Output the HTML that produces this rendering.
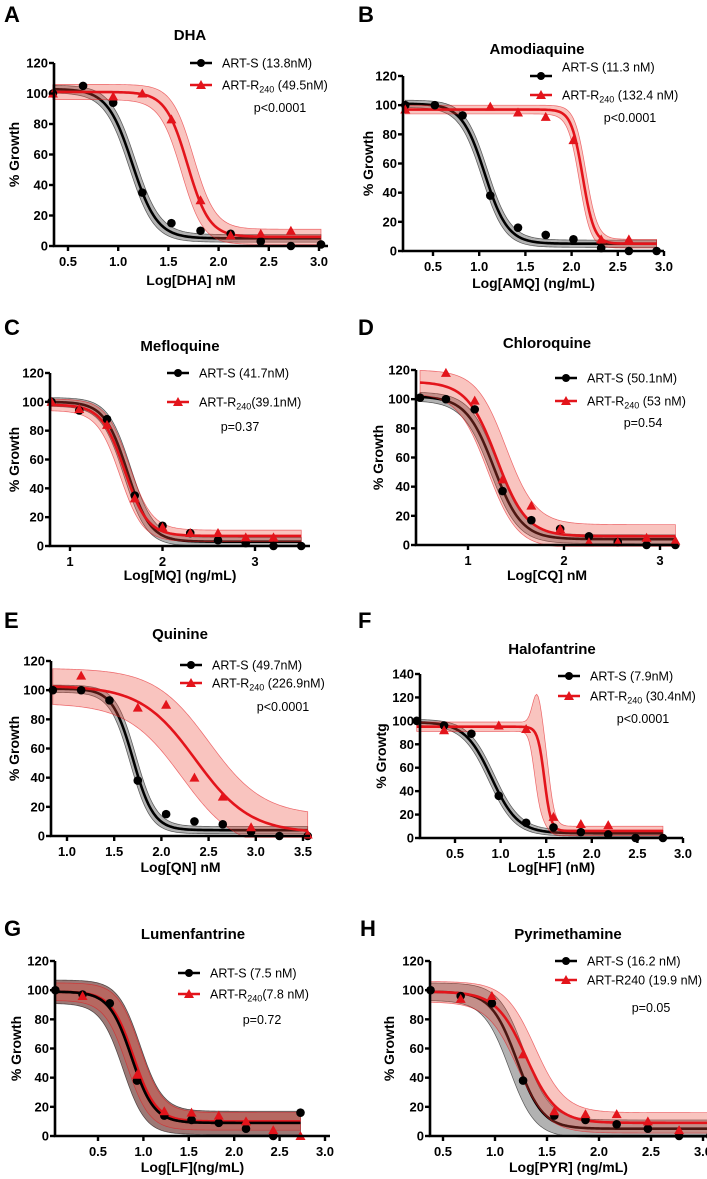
<!DOCTYPE html>
<html><head><meta charset="utf-8">
<style>
html,body{margin:0;padding:0;background:#fff;}
svg{display:block;font-family:"Liberation Sans",Arial,sans-serif;}
</style></head>
<body>
<svg id="fig" width="707" height="1179" viewBox="0 0 707 1179" xmlns="http://www.w3.org/2000/svg"></svg>
<script>
// ---- data (log concentration, % growth) ----
const xA=[0.35,0.65,0.95,1.24,1.53,1.82,2.12,2.42,2.72,3.02];
const sA=[100,105,94,35,15,10,8,3,0,1];
const rA=[100,null,98,100,83,30,7,8,10,null];
const fitSA=[103,5,1.14,3.5], fitRA=[101,6,1.69,4];

const xB=[0.2,0.52,0.82,1.12,1.42,1.72,2.02,2.32,2.62,2.92];
const sB=[100,100,93,38,16,11,8,2,0,0];
const rB=[97,null,null,99,95,92,76,8,8,null];
const fitSB=[101,5,1.06,3.5], fitRB=[97,5,2.12,7];

const xC=[0.8,1.1,1.4,1.7,2.0,2.3,2.6,2.9,3.2,3.5];
const sC=[100,94,88,35,14,9,4,2,0,0];
const rC=[100,95,84,33,13,9,9,6,6,null];
const fitSC=[100,3,1.62,3.5], fitRC=[98,7,1.59,3.5];

const xD=[0.5,0.77,1.07,1.36,1.66,1.96,2.26,2.56,2.86,3.16];
const sD=[101,100,93,37,17,11,6,2,0,0];
const rD=[null,118,99,45,27,11,2,2,5,3];
const fitSD=[102,4,1.27,3], fitRD=[112,6,1.3,2.8];

const xE=[0.85,1.15,1.45,1.75,2.05,2.35,2.65,2.95,3.25,3.55];
const sE=[100,100,93,38,15,10,8,3,0,0];
const rE=[null,110,null,88,90,40,27,6,null,1];
const fitSE=[101,4,1.7,4], fitRE=[103,2,2.36,1.5];

const xF=[0.08,0.38,0.68,0.98,1.28,1.58,1.88,2.18,2.48,2.78];
const sF=[100,96,89,36,13,9,5,3,0,0];
const rF=[null,92,null,96,93,18,12,11,null,null];
const fitSF=[99,4,0.9,3], fitRF=[95,6,1.48,12];

const xG=[0.03,0.33,0.63,0.93,1.23,1.53,1.83,2.13,2.43,2.73];
const sG=[100,97,91,38,14,11,9,5,0,16];
const rG=[null,96,null,42,17,16,14,10,4,0];
const fitSG=[99,9,0.87,3.5], fitRG=[99,10,0.89,3.5];

const xH=[0.38,0.67,0.97,1.27,1.57,1.87,2.17,2.47,2.77,3.07];
const sH=[100,96,91,38,14,11,8,5,0,0];
const rH=[null,94,96,56,17,15,15,10,4,null];
const fitSH=[99,5,1.21,3.5], fitRH=[99,9,1.3,3];

const xTicksA=[0.5,1.0,1.5,2.0,2.5,3.0];
const xTicksC=[1,2,3];
const xTicksE=[1.0,1.5,2.0,2.5,3.0,3.5];

const NS="http://www.w3.org/2000/svg";
const svg=document.getElementById('fig');
function mk(tag,attrs,parent){const e=document.createElementNS(NS,tag);for(const k in attrs)e.setAttribute(k,attrs[k]);(parent||svg).appendChild(e);return e;}
function logi(f,x){return f[1]+(f[0]-f[1])/(1+Math.pow(10,(x-f[2])*f[3]));}

const panels=[
 {id:'a',letter:'A',lx:4,ly:22,title:'DHA',tx:190,ty:40,x0:54,y0:246,yTop:63,ymax:120,xa:0.5,pa:68,xb:3.0,pb:319,xend:328,xmin:0.36,xs:xA,s:sA,r:rA,fs:fitSA,fr:fitRA,ticks:xTicksA,dec:1,xl:'Log[DHA] nM',xly:285,yl:'% Growth',ylx:14,
  legX:190,legY1:63,legY2:85,legS:'ART-S (13.8nM)',legR:['ART-R','240',' (49.5nM)'],p:'p<0.0001',px:280,py:112,wS:2.5,wR:5},
 {id:'b',letter:'B',lx:358,ly:22,title:'Amodiaquine',tx:537,ty:54,x0:403,y0:251,yTop:76,ymax:120,xa:0.5,pa:433,xb:3.0,pb:664,xend:664,xmin:0.18,xs:xB,s:sB,r:rB,fs:fitSB,fr:fitRB,ticks:xTicksA,dec:1,xl:'Log[AMQ] (ng/mL)',xly:288,yl:'% Growth',ylx:368,
  legX:530,legY1:76,legY2:95,legS:'ART-S (11.3 nM)',legR:['ART-R','240',' (132.4 nM)'],p:'p<0.0001',px:630,py:122,legSdy:-9,wS:2.5,wR:3},
 {id:'c',letter:'C',lx:4,ly:335,title:'Mefloquine',tx:180,ty:351,x0:50,y0:546,yTop:373,ymax:120,xa:1,pa:70,xb:3,pb:255,xend:310,xmin:0.78,xs:xC,s:sC,r:rC,fs:fitSC,fr:fitRC,ticks:xTicksC,dec:0,xl:'Log[MQ] (ng/mL)',xly:580,yl:'% Growth',ylx:14,
  legX:167,legY1:373,legY2:402,legS:'ART-S (41.7nM)',legR:['ART-R','240','(39.1nM)'],p:'p=0.37',px:240,py:431,wS:3,wR:4},
 {id:'d',letter:'D',lx:358,ly:335,title:'Chloroquine',tx:547,ty:348,x0:416,y0:545,yTop:370,ymax:120,xa:1,pa:468,xb:3,pb:660,xend:678,xmin:0.46,xs:xD,s:sD,r:rD,fs:fitSD,fr:fitRD,ticks:xTicksC,dec:0,xl:'Log[CQ] nM',xly:580,yl:'% Growth',ylx:378,
  legX:555,legY1:378,legY2:401,legS:'ART-S (50.1nM)',legR:['ART-R','240',' (53 nM)'],p:'p=0.54',px:643,py:427,wS:3,wR:8},
 {id:'e',letter:'E',lx:4,ly:628,title:'Quinine',tx:180,ty:639,x0:51,y0:836,yTop:661,ymax:120,xa:1.0,pa:67,xb:3.5,pb:303,xend:310,xmin:0.83,xs:xE,s:sE,r:rE,fs:fitSE,fr:fitRE,ticks:xTicksE,dec:1,xl:'Log[QN] nM',xly:872,yl:'% Growth',ylx:14,
  legX:180,legY1:665,legY2:683,legS:'ART-S (49.7nM)',legR:['ART-R','240',' (226.9nM)'],p:'p<0.0001',px:283,py:711,wS:2.5,wR:12},
 {id:'f',letter:'F',lx:358,ly:628,title:'Halofantrine',tx:552,ty:654,x0:420,y0:838,yTop:674,ymax:140,xa:0.5,pa:455,xb:3.0,pb:683,xend:683,xmin:0.12,xs:xF,s:sF,r:rF,fs:fitSF,fr:fitRF,ticks:xTicksA,dec:1,xl:'Log[HF] (nM)',xly:872,yl:'% Growtg',ylx:381,
  legX:558,legY1:676,legY2:696,legS:'ART-S (7.9nM)',legR:['ART-R','240',' (30.4nM)'],p:'p<0.0001',px:643,py:723,wS:2.5,wR:4,bump:[1.4,26,0.05]},
 {id:'g',letter:'G',lx:4,ly:936,title:'Lumenfantrine',tx:193,ty:939,x0:55,y0:1136,yTop:961,ymax:120,xa:0.5,pa:98,xb:3.0,pb:325,xend:330,xmin:0.026,xs:xG,s:sG,r:rG,fs:fitSG,fr:fitRG,ticks:xTicksA,dec:1,xl:'Log[LF](ng/mL)',xly:1172,yl:'% Growth',ylx:16,
  legX:178,legY1:973,legY2:994,legS:'ART-S (7.5 nM)',legR:['ART-R','240','(7.8 nM)'],p:'p=0.72',px:262,py:1024,wS:8,wR:6,darkS:true},
 {id:'h',letter:'H',lx:360,ly:936,title:'Pyrimethamine',tx:568,ty:939,x0:430,y0:1136,yTop:961,ymax:120,xa:0.5,pa:443,xb:3.0,pb:703,xend:707,xmin:0.375,xs:xH,s:sH,r:rH,fs:fitSH,fr:fitRH,ticks:xTicksA,dec:1,xl:'Log[PYR] (ng/mL)',xly:1172,yl:'% Growth',ylx:389,
  legX:555,legY1:961,legY2:980,legS:'ART-S (16.2 nM)',legR:['ART-R240 (19.9 nM)','',''],p:'p=0.05',px:651,py:1012,wS:6,wR:7}
];

panels.forEach(P=>{
  const g=mk('g',{});
  
  
  const X=v=>P.pa+(v-P.xa)*(P.pb-P.pa)/(P.xb-P.xa);
  const Y=v=>P.y0-(v/P.ymax)*(P.y0-P.yTop);
  const fitEnd=P.xs[P.xs.length-1];
  const fitStart=P.xs[0];
  let t=mk('text',{x:P.lx,y:P.ly,'font-size':22,'font-weight':'bold'},g);t.textContent=P.letter;
  
  t=mk('text',{x:P.tx,y:P.ty,'font-size':15,'font-weight':'bold','text-anchor':'middle'},g);t.textContent=P.title;
  
  function series(f,w,fill,stroke,name,bump){
    const N=160,up=[],dn=[],mid=[];
    const dx=Math.min(0.012*w,0.15);
    for(let i=0;i<=N;i++){const x=fitStart+(fitEnd-fitStart)*i/N;
      const y=logi(f,x);
      let ww=w;if(bump){ww+=bump[1]*Math.exp(-Math.pow((x-bump[0])/bump[2],2)/2);}
      const fu=[f[0]+ww,f[1]+ww,f[2]+dx,f[3]], fd=[f[0]-ww,f[1]-ww,f[2]-dx,f[3]];
      const yu=Math.max(logi(fu,x),y+ (bump?ww-w:0)), yd=logi(fd,x);
      up.push([X(x),Y(Math.min(yu,P.ymax))]);dn.push([X(x),Y(Math.max(yd,-1))]);mid.push([X(x),Y(y)]);}
    if(w>0.05){
      let b=mk('polygon',{points:up.concat(dn.reverse()).map(p=>p.join(',')).join(' '),fill:fill,stroke:stroke,'stroke-width':0.7,'stroke-opacity':0.6},g);
      
    }
    let l=mk('polyline',{points:mid.map(p=>p.join(',')).join(' '),fill:'none',stroke:stroke,'stroke-width':2.6},g);
    
  }
  series(P.fs,P.wS,P.darkS?'rgba(90,30,25,0.6)':'rgba(0,0,0,0.3)','#000','art-s',null);
  series(P.fr,P.wR,'rgba(235,70,55,0.32)','#e3141b','art-r',P.bump);
  if(P.darkS){series(P.fs,0,'none','#000','art-s-line',null);}
  P.xs.forEach((x,i)=>{
    if(P.s[i]!=null){const c=mk('circle',{cx:X(x),cy:Y(P.s[i]),r:4.3,fill:'#000'},g);
      }
    if(P.r[i]!=null){const cx=X(x),cy=Y(P.r[i]);
      const tr=mk('polygon',{points:`${cx},${cy-5} ${cx-5},${cy+4} ${cx+5},${cy+4}`,fill:'#e3141b'},g);
      }
  });
  let ax=mk('path',{d:`M${P.x0},${P.yTop}V${P.y0}H${P.xend}`,fill:'none',stroke:'#000','stroke-width':2.6},g);
  
  for(let v=0;v<=P.ymax;v+=20){
    const y=Y(v);mk('line',{x1:P.x0-5,x2:P.x0,y1:y,y2:y,stroke:'#000','stroke-width':2.4},g);
    const tt=mk('text',{x:P.x0-6,y:y+4.5,'font-size':13,'font-weight':'bold','text-anchor':'end'},g);tt.textContent=v;
    
  }
  P.ticks.forEach(v=>{
    const x=X(v);mk('line',{x1:x,x2:x,y1:P.y0,y2:P.y0+5,stroke:'#000','stroke-width':2.4},g);
    const tt=mk('text',{x:x,y:P.y0+20,'font-size':13,'font-weight':'bold','text-anchor':'middle'},g);tt.textContent=v.toFixed(P.dec);
    
  });
  t=mk('text',{x:(P.x0+P.xend)/2,y:P.xly,'font-size':14,'font-weight':'bold','text-anchor':'middle'},g);t.textContent=P.xl;
  
  const yc=(P.y0+P.yTop)/2;
  t=mk('text',{x:P.ylx,y:yc,'font-size':14,'font-weight':'bold','text-anchor':'middle',transform:`rotate(-90 ${P.ylx} ${yc})`,dy:5},g);t.textContent=P.yl;
  
  const lg=mk('g',{},g);
  mk('line',{x1:P.legX,x2:P.legX+22,y1:P.legY1,y2:P.legY1,stroke:'#000','stroke-width':2.6},lg);
  mk('circle',{cx:P.legX+11,cy:P.legY1,r:4,fill:'#000'},lg);
  t=mk('text',{x:P.legX+32,y:P.legY1+4.5+(P.legSdy||0),'font-size':12.5},lg);t.textContent=P.legS;
  
  mk('line',{x1:P.legX,x2:P.legX+22,y1:P.legY2,y2:P.legY2,stroke:'#e3141b','stroke-width':2.6},lg);
  const c2=P.legX+11;mk('polygon',{points:`${c2},${P.legY2-5} ${c2-5},${P.legY2+4} ${c2+5},${P.legY2+4}`,fill:'#e3141b'},lg);
  t=mk('text',{x:P.legX+32,y:P.legY2+4.5,'font-size':12.5},lg);
  
  const a=mk('tspan',{},t);a.textContent=P.legR[0];
  if(P.legR[1]){const b=mk('tspan',{'font-size':9,dy:3},t);b.textContent=P.legR[1];
    const c=mk('tspan',{dy:-3},t);c.textContent=P.legR[2];}
  t=mk('text',{x:P.px,y:P.py,'font-size':12.5,'text-anchor':'middle'},g);t.textContent=P.p;
  
});
</script>
</body></html>
